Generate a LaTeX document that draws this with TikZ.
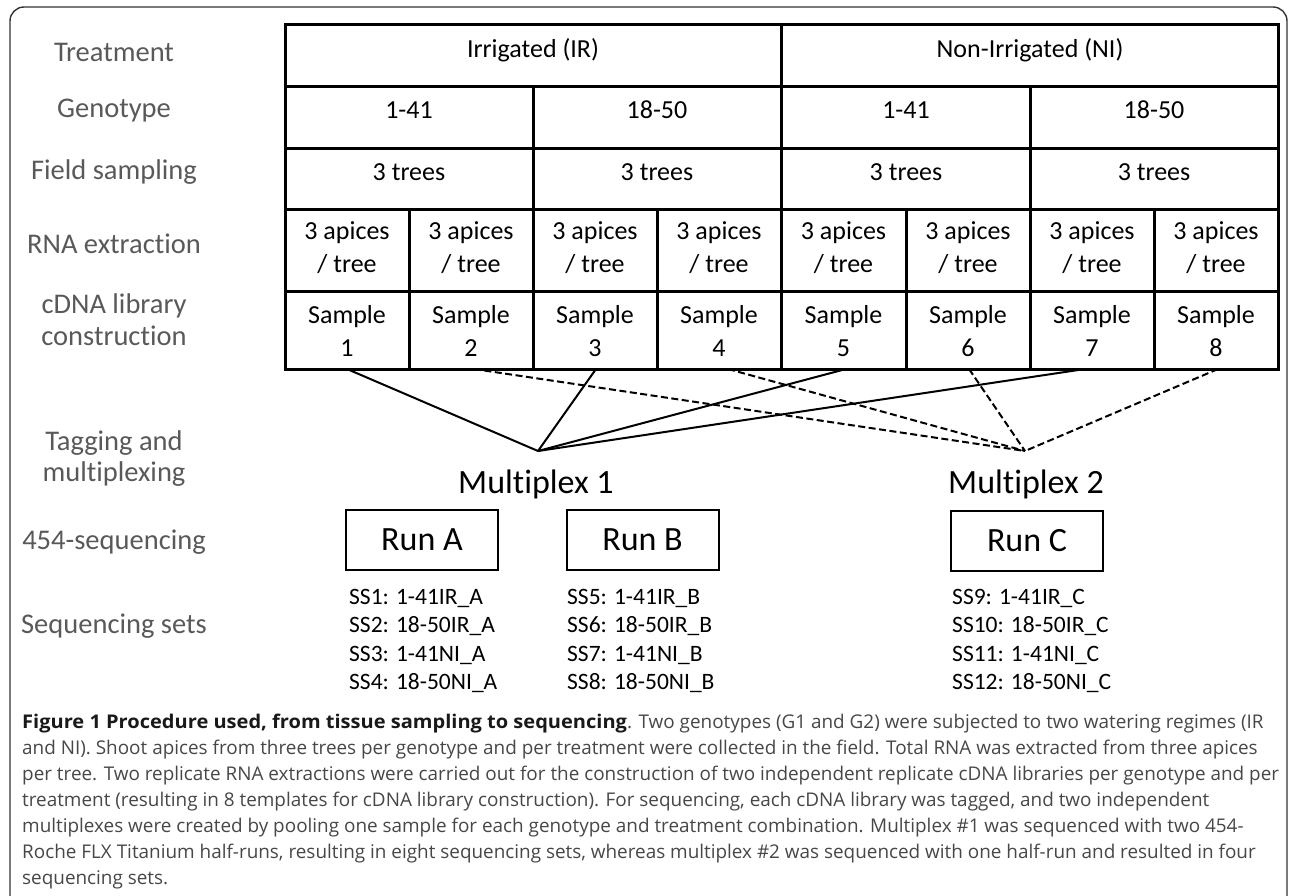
\documentclass[tikz,border=0pt]{standalone}
\usepackage{fontspec}
\setmainfont[Ligatures=NoCommon]{Carlito}
\newfontfamily\capfont[BoldFeatures={FakeStretch=1.06}]{Open Sans}
\definecolor{labgray}{HTML}{595959}
\definecolor{capgray}{HTML}{474747}
\definecolor{framegray}{HTML}{333333}
\begin{document}
\begin{tikzpicture}[x=1pt,y=-1pt,
  lbl/.style={anchor=base, inner sep=0pt, text=labgray, font=\fontsize{28.5}{34}\selectfont},
  cell/.style={anchor=base, inner sep=0pt, font=\fontsize{26}{33}\selectfont},
  tgrid/.style={line width=3pt, line cap=rect},
  runbox/.style={draw, line width=2pt, minimum width=152pt, minimum height=60pt, inner sep=0pt, font=\fontsize{34}{40}\selectfont},
  mplex/.style={anchor=base, inner sep=0pt, font=\fontsize{34}{40}\selectfont},
  ss/.style={anchor=base west, inner sep=0pt, font=\fontsize{23.5}{29}\selectfont},
  captxt/.style={anchor=base west, inner sep=0pt, text=capgray, font=\capfont\fontsize{18.9}{26}\selectfont},
  solidlink/.style={line width=2pt},
  dashlink/.style={line width=2pt, dash pattern=on 7pt off 3.5pt}]
\useasboundingbox (0,0) rectangle (1292,896);
\begin{scope}
\clip (0,0) rectangle (1292,896);
\draw[framegray, line width=1.4pt, rounded corners=14pt] (10,7) rectangle (1287,940);
\end{scope}

% left labels
\node[lbl] (lTreat) at (114,62) {Treatment};
\node[lbl] (lGeno) at (114,118) {Genotype};
\node[lbl] (lField) at (114,180) {Field sampling};
\node[lbl] (lRNA) at (114,253) {RNA extraction};
\node[lbl] (lcDNAa) at (114,313) {cDNA library};
\node[lbl] (lcDNAb) at (114,345) {construction};
\node[lbl] (lTagA) at (114,450) {Tagging and};
\node[lbl] (lTagB) at (114,481) {multiplexing};
\node[lbl] (lSeq) at (114,549) {454-sequencing};
\node[lbl] (lSets) at (114,633) {Sequencing sets};

% table grid
\draw[tgrid] (285,25) rectangle (1278,369);
\foreach \yy in {87,149,209,291} \draw[tgrid] (285,\yy) -- (1278,\yy);
\draw[tgrid] (781.5,25) -- (781.5,369);
\foreach \xx in {533,1030} \draw[tgrid] (\xx,87) -- (\xx,369);
\foreach \xx in {409,657,906,1154} \draw[tgrid] (\xx,209) -- (\xx,369);

% table text
\node[cell] (tIR) at (533,58) {Irrigated (IR)};
\node[cell] (tNI) at (1030,58) {Non-Irrigated (NI)};
\node[cell] (g1) at (409,119) {1-41};
\node[cell] (g2) at (657,119) {18-50};
\node[cell] (g3) at (906,119) {1-41};
\node[cell] (g4) at (1154,119) {18-50};
\foreach \cx/\n in {409/1,657/2,906/3,1154/4}
  \node[cell] (tr\n) at (\cx,181) {3 trees};
\foreach \cx/\n in {347/1,471/2,595/3,719/4,843.5/5,968/6,1092/7,1216/8} {
  \node[cell] (apA\n) at (\cx,239) {3 apices};
  \node[cell] (apB\n) at (\cx,272) {/ tree};
  \node[cell] (smA\n) at (\cx,323) {Sample};
  \node[cell] (smB\n) at (\cx,356) {\n};
}

% connector ends
\coordinate (s1) at (347,369);
\coordinate (s2) at (474,369);
\coordinate (s3) at (596,369);
\coordinate (s4) at (728,369);
\coordinate (s5) at (846,369);
\coordinate (s6) at (969,369);
\coordinate (s7) at (1085,369);
\coordinate (s8) at (1218,369);
\coordinate (m1) at (538,451);
\coordinate (m2) at (1025,451);
\foreach \s in {s1,s3,s5,s7} \draw[solidlink] (\s) -- (m1);
\foreach \s in {s2,s4,s6,s8} \draw[dashlink] (\s) -- (m2);

\node[mplex] (mp1) at (536,493) {Multiplex 1};
\node[mplex] (mp2) at (1026,493) {Multiplex 2};

\node[runbox] (runA) at (422,540) {Run A};
\node[runbox] (runB) at (642.5,540) {Run B};
\node[runbox] (runC) at (1027,541) {Run C};

\node[ss] (ss1) at (349,604) {SS1: 1-41IR\_A};
\node[ss] (ss2) at (349,632.5) {SS2: 18-50IR\_A};
\node[ss] (ss3) at (349,661) {SS3: 1-41NI\_A};
\node[ss] (ss4) at (349,689.5) {SS4: 18-50NI\_A};
\node[ss] (ss5) at (567,604) {SS5: 1-41IR\_B};
\node[ss] (ss6) at (567,632.5) {SS6: 18-50IR\_B};
\node[ss] (ss7) at (567,661) {SS7: 1-41NI\_B};
\node[ss] (ss8) at (567,689.5) {SS8: 18-50NI\_B};
\node[ss] (ss9) at (952,604) {SS9: 1-41IR\_C};
\node[ss] (ss10) at (952,632.5) {SS10: 18-50IR\_C};
\node[ss] (ss11) at (952,661) {SS11: 1-41NI\_C};
\node[ss] (ss12) at (952,689.5) {SS12: 18-50NI\_C};

% caption
\node[captxt] (c1) at (22,728) {{\bfseries\color{black!90}Figure 1 Procedure used, from tissue sampling to sequencing}. Two genotypes (G1 and G2) were subjected to two watering regimes (IR};
\node[captxt] (c2) at (22,754) {and NI). Shoot apices from three trees per genotype and per treatment were collected in the field. Total RNA was extracted from three apices};
\node[captxt] (c3) at (22,780) {per tree. Two replicate RNA extractions were carried out for the construction of two independent replicate cDNA libraries per genotype and per};
\node[captxt] (c4) at (22,806) {treatment (resulting in 8 templates for cDNA library construction). For sequencing, each cDNA library was tagged, and two independent};
\node[captxt] (c5) at (22,832) {multiplexes were created by pooling one sample for each genotype and treatment combination. Multiplex \#1 was sequenced with two 454-};
\node[captxt] (c6) at (22,858) {Roche FLX Titanium half-runs, resulting in eight sequencing sets, whereas multiplex \#2 was sequenced with one half-run and resulted in four};
\node[captxt] (c7) at (22,884) {sequencing sets.};
\end{tikzpicture}
\end{document}
